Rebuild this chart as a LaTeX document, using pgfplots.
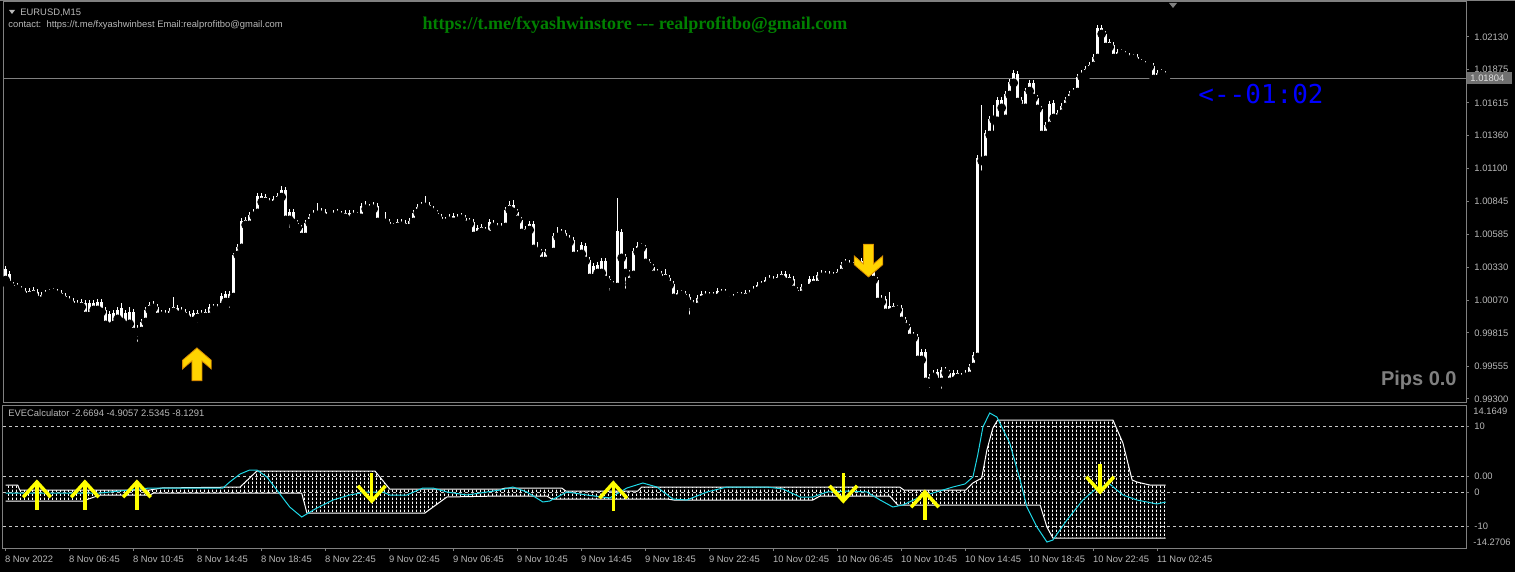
\documentclass[border=0pt]{standalone}
\usepackage{fontspec}
\setmainfont{Liberation Sans}
\newfontfamily\monofont{DejaVu Sans Mono}
\newfontfamily\seriffont{Liberation Serif}
\usepackage{pgfplots}
\pgfplotsset{compat=1.18}
\usepackage{pgfplotstable}
\usetikzlibrary{patterns}
\definecolor{tickgray}{RGB}{185,185,185}
\definecolor{framegray}{RGB}{128,128,128}
\definecolor{dashgray}{RGB}{200,200,200}
\definecolor{aqua}{RGB}{30,215,230}
\definecolor{ylw}{RGB}{255,255,0}
\definecolor{gold}{RGB}{255,212,0}
\definecolor{goldedge}{RGB}{215,140,0}
\definecolor{mtgreen}{RGB}{0,128,0}
\definecolor{pipsgray}{RGB}{128,128,128}
\definecolor{boxgray}{RGB}{112,112,112}
\newcommand\tf{\fontsize{4.7pt}{5.6pt}\selectfont}

\pgfdeclarepatternformonly{vdots}{\pgfpointorigin}{\pgfpoint{2pt}{2pt}}{\pgfpoint{2pt}{2pt}}{%
  \pgfpathrectangle{\pgfpointorigin}{\pgfpoint{0.5pt}{1.5pt}}\pgfusepath{fill}}

\pgfdeclareplotmark{upind}{%
  \pgfsetlinewidth{1.75pt}\pgfsetmiterjoin\pgfsetbuttcap
  \pgfpathmoveto{\pgfpoint{-6.9pt}{-7.6pt}}\pgfpathlineto{\pgfpoint{0pt}{0pt}}\pgfpathlineto{\pgfpoint{6.9pt}{-7.6pt}}\pgfusepathqstroke
  \pgfpathmoveto{\pgfpoint{0pt}{0pt}}\pgfpathlineto{\pgfpoint{0pt}{-14pt}}\pgfusepathqstroke}
\pgfdeclareplotmark{downind}{%
  \pgfsetlinewidth{1.75pt}\pgfsetmiterjoin\pgfsetbuttcap
  \pgfpathmoveto{\pgfpoint{-6.9pt}{7.6pt}}\pgfpathlineto{\pgfpoint{0pt}{0pt}}\pgfpathlineto{\pgfpoint{6.9pt}{7.6pt}}\pgfusepathqstroke
  \pgfpathmoveto{\pgfpoint{0pt}{0pt}}\pgfpathlineto{\pgfpoint{0pt}{14pt}}\pgfusepathqstroke}
\pgfdeclareplotmark{upbig}{%
  \pgfpathmoveto{\pgfpoint{0pt}{0pt}}
  \pgfpathlineto{\pgfpoint{-7.15pt}{-6.15pt}}
  \pgfpathlineto{\pgfpoint{-7.15pt}{-10.5pt}}
  \pgfpathlineto{\pgfpoint{-2.5pt}{-6.5pt}}
  \pgfpathlineto{\pgfpoint{-2.5pt}{-16.35pt}}
  \pgfpathlineto{\pgfpoint{2.5pt}{-16.35pt}}
  \pgfpathlineto{\pgfpoint{2.5pt}{-6.5pt}}
  \pgfpathlineto{\pgfpoint{7.15pt}{-10.5pt}}
  \pgfpathlineto{\pgfpoint{7.15pt}{-6.15pt}}
  \pgfpathclose\pgfusepathqfillstroke}
\pgfdeclareplotmark{downbig}{%
  \pgfpathmoveto{\pgfpoint{0pt}{0pt}}
  \pgfpathlineto{\pgfpoint{-7.15pt}{6.15pt}}
  \pgfpathlineto{\pgfpoint{-7.15pt}{10.5pt}}
  \pgfpathlineto{\pgfpoint{-2.5pt}{6.5pt}}
  \pgfpathlineto{\pgfpoint{-2.5pt}{16.35pt}}
  \pgfpathlineto{\pgfpoint{2.5pt}{16.35pt}}
  \pgfpathlineto{\pgfpoint{2.5pt}{6.5pt}}
  \pgfpathlineto{\pgfpoint{7.15pt}{10.5pt}}
  \pgfpathlineto{\pgfpoint{7.15pt}{6.15pt}}
  \pgfpathclose\pgfusepathqfillstroke}

\pgfplotstableread{
i h t b l
0 1.00339 1.00316 1.00229 1.00206
1 1.00300 1.00277 1.00190 1.00166
2 1.00213 1.00190 1.00151 1.00128
3 1.00206 1.00182 1.00159 1.00135
4 1.00182 1.00159 1.00128 1.00104
5 1.00166 1.00143 1.00096 1.00073
6 1.00166 1.00143 1.00104 1.00081
7 1.00174 1.00151 1.00112 1.00089
8 1.00159 1.00135 1.00073 1.00050
9 1.00135 1.00112 1.00065 1.00042
10 1.00151 1.00128 1.00104 1.00081
11 1.00159 1.00135 1.00120 1.00096
12 1.00166 1.00143 1.00128 1.00104
13 1.00159 1.00135 1.00112 1.00089
14 1.00151 1.00128 1.00089 1.00065
15 1.00128 1.00104 1.00065 1.00042
16 1.00104 1.00081 1.00050 1.00026
17 1.00089 1.00065 1.00018 0.99995
18 1.00073 1.00050 1.00018 0.99995
19 1.00081 1.00057 1.00018 0.99995
20 1.00073 1.00050 0.99948 0.99925
21 1.00073 1.00050 0.99948 0.99925
22 1.00073 1.00050 0.99995 0.99972
23 1.00081 1.00057 0.99995 0.99972
24 1.00081 1.00057 0.99979 0.99956
25 1.00018 0.99995 0.99878 0.99854
26 0.99987 0.99964 0.99862 0.99838
27 0.99995 0.99972 0.99878 0.99854
28 1.00018 0.99995 0.99925 0.99901
29 1.00050 1.00010 0.99901 0.99893
30 0.99995 0.99972 0.99862 0.99838
31 1.00018 0.99979 0.99886 0.99838
32 1.00003 0.99979 0.99822 0.99775
33 0.99878 0.99838 0.99822 0.99713
34 0.99925 0.99901 0.99830 0.99807
35 1.00018 0.99995 0.99901 0.99878
36 1.00057 1.00034 0.99995 0.99972
37 1.00065 1.00042 1.00010 0.99987
38 1.00042 1.00018 0.99940 0.99917
39 0.99995 0.99972 0.99948 0.99925
40 0.99995 0.99972 0.99940 0.99917
41 1.00010 0.99987 0.99940 0.99901
42 1.00096 1.00018 0.99979 0.99956
43 1.00034 1.00010 0.99956 0.99932
44 1.00018 0.99995 0.99964 0.99940
45 1.00003 0.99979 0.99940 0.99917
46 0.99987 0.99964 0.99909 0.99886
47 0.99995 0.99972 0.99909 0.99886
48 0.99995 0.99972 0.99932 0.99854
49 0.99995 0.99972 0.99940 0.99917
50 1.00003 0.99979 0.99940 0.99917
51 1.00042 1.00018 0.99940 0.99917
52 1.00042 1.00018 0.99995 0.99972
53 1.00042 1.00018 0.99987 0.99964
54 1.00128 1.00104 1.00018 0.99995
55 1.00143 1.00120 1.00057 1.00034
56 1.00143 1.00120 1.00057 0.99979
57 1.00441 1.00425 1.00096 1.00081
58 1.00511 1.00487 1.00425 1.00402
59 1.00714 1.00691 1.00480 1.00456
60 1.00722 1.00699 1.00660 1.00636
61 1.00761 1.00738 1.00660 1.00605
62 1.00785 1.00761 1.00730 1.00707
63 1.00910 1.00886 1.00754 1.00730
64 1.00910 1.00886 1.00839 1.00816
65 1.00902 1.00878 1.00839 1.00816
66 1.00870 1.00847 1.00816 1.00792
67 1.00886 1.00863 1.00816 1.00792
68 1.00910 1.00886 1.00847 1.00824
69 1.00964 1.00933 1.00878 1.00855
70 1.00956 1.00933 1.00699 1.00675
71 1.00785 1.00761 1.00699 1.00605
72 1.00785 1.00761 1.00675 1.00652
73 1.00699 1.00675 1.00636 1.00613
74 1.00660 1.00636 1.00565 1.00542
75 1.00699 1.00675 1.00565 1.00542
76 1.00746 1.00722 1.00675 1.00652
77 1.00777 1.00754 1.00722 1.00699
78 1.00832 1.00761 1.00738 1.00714
79 1.00792 1.00769 1.00738 1.00714
80 1.00785 1.00761 1.00714 1.00691
81 1.00746 1.00722 1.00714 1.00691
82 1.00777 1.00754 1.00722 1.00699
83 1.00785 1.00761 1.00738 1.00714
84 1.00769 1.00746 1.00722 1.00699
85 1.00777 1.00754 1.00714 1.00691
86 1.00777 1.00754 1.00683 1.00660
87 1.00777 1.00754 1.00722 1.00699
88 1.00761 1.00738 1.00722 1.00699
89 1.00832 1.00808 1.00714 1.00691
90 1.00847 1.00808 1.00785 1.00761
91 1.00824 1.00800 1.00777 1.00754
92 1.00839 1.00816 1.00785 1.00761
93 1.00832 1.00808 1.00683 1.00660
94 1.00707 1.00683 1.00675 1.00652
95 1.00761 1.00691 1.00675 1.00652
96 1.00707 1.00683 1.00636 1.00613
97 1.00675 1.00652 1.00636 1.00597
98 1.00707 1.00683 1.00644 1.00620
99 1.00707 1.00683 1.00652 1.00628
100 1.00699 1.00675 1.00636 1.00613
101 1.00714 1.00691 1.00636 1.00613
102 1.00777 1.00754 1.00683 1.00660
103 1.00824 1.00800 1.00754 1.00730
104 1.00839 1.00816 1.00792 1.00769
105 1.00886 1.00824 1.00800 1.00777
106 1.00839 1.00816 1.00777 1.00754
107 1.00808 1.00785 1.00754 1.00730
108 1.00777 1.00754 1.00714 1.00691
109 1.00746 1.00722 1.00675 1.00652
110 1.00722 1.00699 1.00675 1.00652
111 1.00746 1.00722 1.00691 1.00668
112 1.00754 1.00730 1.00683 1.00660
113 1.00746 1.00722 1.00691 1.00668
114 1.00754 1.00730 1.00707 1.00683
115 1.00738 1.00714 1.00660 1.00636
116 1.00714 1.00691 1.00668 1.00644
117 1.00707 1.00683 1.00573 1.00550
118 1.00660 1.00636 1.00581 1.00558
119 1.00668 1.00644 1.00605 1.00581
120 1.00644 1.00620 1.00597 1.00573
121 1.00707 1.00683 1.00581 1.00558
122 1.00699 1.00675 1.00644 1.00620
123 1.00675 1.00652 1.00620 1.00597
124 1.00675 1.00652 1.00620 1.00597
125 1.00800 1.00777 1.00644 1.00620
126 1.00847 1.00816 1.00777 1.00754
127 1.00855 1.00816 1.00761 1.00738
128 1.00785 1.00761 1.00699 1.00675
129 1.00722 1.00699 1.00597 1.00542
130 1.00652 1.00628 1.00589 1.00565
131 1.00691 1.00668 1.00620 1.00597
132 1.00691 1.00668 1.00472 1.00448
133 1.00526 1.00472 1.00448 1.00409
134 1.00472 1.00448 1.00378 1.00355
135 1.00472 1.00448 1.00378 1.00339
136 1.00480 1.00456 1.00448 1.00425
137 1.00597 1.00573 1.00448 1.00425
138 1.00644 1.00589 1.00565 1.00542
139 1.00628 1.00605 1.00581 1.00558
140 1.00620 1.00597 1.00542 1.00519
141 1.00581 1.00558 1.00526 1.00503
142 1.00565 1.00542 1.00417 1.00394
143 1.00464 1.00441 1.00417 1.00394
144 1.00526 1.00503 1.00433 1.00409
145 1.00519 1.00495 1.00378 1.00355
146 1.00409 1.00386 1.00245 1.00221
147 1.00363 1.00339 1.00245 1.00221
148 1.00370 1.00347 1.00284 1.00261
149 1.00402 1.00378 1.00284 1.00261
150 1.00402 1.00378 1.00229 1.00206
151 1.00261 1.00237 1.00198 1.00112
152 1.00221 1.00198 1.00174 1.00151
153 1.00870 1.00613 1.00174 1.00151
154 1.00628 1.00605 1.00402 1.00378
155 1.00433 1.00409 1.00284 1.00128
156 1.00308 1.00284 1.00213 1.00190
157 1.00480 1.00456 1.00269 1.00245
158 1.00526 1.00495 1.00448 1.00425
159 1.00519 1.00495 1.00480 1.00456
160 1.00503 1.00480 1.00363 1.00339
161 1.00394 1.00370 1.00331 1.00308
162 1.00355 1.00331 1.00269 1.00245
163 1.00316 1.00277 1.00269 1.00245
164 1.00300 1.00277 1.00229 1.00206
165 1.00316 1.00277 1.00237 1.00213
166 1.00269 1.00245 1.00190 1.00166
167 1.00221 1.00198 1.00089 1.00065
168 1.00151 1.00128 1.00081 1.00057
169 1.00151 1.00128 1.00112 1.00089
170 1.00143 1.00120 1.00081 1.00057
171 1.00120 1.00096 1.00042 0.99925
172 1.00073 1.00050 1.00018 0.99995
173 1.00112 1.00089 1.00018 0.99995
174 1.00143 1.00120 1.00073 1.00050
175 1.00143 1.00120 1.00089 1.00065
176 1.00135 1.00112 1.00089 1.00065
177 1.00135 1.00112 1.00089 1.00065
178 1.00166 1.00143 1.00089 1.00065
179 1.00159 1.00135 1.00112 1.00089
180 1.00159 1.00135 1.00112 1.00089
181 1.00120 1.00096 1.00065 1.00042
182 1.00120 1.00096 1.00073 1.00050
183 1.00135 1.00112 1.00096 1.00073
184 1.00135 1.00112 1.00089 1.00065
185 1.00151 1.00128 1.00089 1.00065
186 1.00151 1.00128 1.00096 1.00073
187 1.00182 1.00159 1.00128 1.00104
188 1.00213 1.00190 1.00143 1.00120
189 1.00221 1.00198 1.00174 1.00151
190 1.00253 1.00229 1.00182 1.00159
191 1.00269 1.00245 1.00213 1.00190
192 1.00261 1.00237 1.00206 1.00182
193 1.00277 1.00253 1.00213 1.00190
194 1.00300 1.00277 1.00237 1.00213
195 1.00300 1.00277 1.00213 1.00190
196 1.00277 1.00253 1.00213 1.00190
197 1.00261 1.00237 1.00151 1.00128
198 1.00174 1.00151 1.00112 1.00089
199 1.00198 1.00174 1.00112 1.00089
200 1.00198 1.00174 1.00166 1.00143
201 1.00261 1.00237 1.00166 1.00143
202 1.00261 1.00237 1.00190 1.00166
203 1.00292 1.00269 1.00190 1.00166
204 1.00308 1.00284 1.00253 1.00229
205 1.00300 1.00277 1.00253 1.00229
206 1.00300 1.00277 1.00245 1.00221
207 1.00292 1.00269 1.00245 1.00221
208 1.00316 1.00292 1.00253 1.00229
209 1.00370 1.00347 1.00284 1.00261
210 1.00394 1.00370 1.00347 1.00323
211 1.00386 1.00363 1.00331 1.00308
212 1.00370 1.00347 1.00331 1.00308
213 1.00402 1.00378 1.00347 1.00323
214 1.00402 1.00378 1.00292 1.00269
215 1.00433 1.00409 1.00284 1.00261
216 1.00448 1.00409 1.00323 1.00300
217 1.00339 1.00316 1.00229 1.00206
218 1.00253 1.00229 1.00057 1.00034
219 1.00112 1.00089 1.00057 1.00034
220 1.00104 1.00081 0.99972 0.99948
221 1.00135 1.00026 0.99972 0.99948
222 1.00050 1.00026 0.99987 0.99964
223 1.00034 1.00010 0.99995 0.99972
224 1.00034 1.00010 0.99909 0.99886
225 0.99940 0.99917 0.99862 0.99838
226 0.99886 0.99862 0.99776 0.99752
227 0.99822 0.99799 0.99776 0.99752
228 0.99807 0.99784 0.99604 0.99581
229 0.99690 0.99666 0.99604 0.99581
230 0.99690 0.99666 0.99432 0.99408
231 0.99495 0.99471 0.99424 0.99353
232 0.99526 0.99503 0.99471 0.99447
233 0.99534 0.99510 0.99432 0.99408
234 0.99549 0.99526 0.99432 0.99346
235 0.99549 0.99526 0.99503 0.99479
236 0.99526 0.99503 0.99432 0.99408
237 0.99526 0.99503 0.99440 0.99416
238 0.99526 0.99503 0.99463 0.99440
239 0.99503 0.99479 0.99455 0.99432
240 0.99526 0.99503 0.99471 0.99447
241 0.99573 0.99549 0.99479 0.99455
242 0.99666 0.99643 0.99549 0.99526
243 1.01207 1.01183 0.99627 0.99604
244 1.01598 1.01183 1.01160 1.01051
245 1.01402 1.01379 1.01168 1.01144
246 1.01512 1.01489 1.01363 1.01340
247 1.01598 1.01496 1.01481 1.01363
248 1.01660 1.01637 1.01473 1.01449
249 1.01660 1.01637 1.01575 1.01551
250 1.01707 1.01684 1.01489 1.01465
251 1.01801 1.01778 1.01676 1.01652
252 1.01872 1.01848 1.01770 1.01746
253 1.01864 1.01840 1.01621 1.01598
254 1.01660 1.01637 1.01575 1.01551
255 1.01731 1.01707 1.01575 1.01551
256 1.01793 1.01770 1.01707 1.01684
257 1.01793 1.01770 1.01652 1.01629
258 1.01676 1.01652 1.01567 1.01543
259 1.01590 1.01567 1.01363 1.01340
260 1.01465 1.01442 1.01363 1.01340
261 1.01629 1.01606 1.01434 1.01410
262 1.01637 1.01614 1.01496 1.01473
263 1.01559 1.01535 1.01489 1.01465
264 1.01614 1.01590 1.01528 1.01504
265 1.01660 1.01637 1.01582 1.01559
266 1.01707 1.01684 1.01637 1.01614
267 1.01731 1.01707 1.01684 1.01660
268 1.01840 1.01817 1.01699 1.01676
269 1.01872 1.01848 1.01817 1.01793
270 1.01903 1.01879 1.01840 1.01817
271 1.01934 1.01911 1.01872 1.01848
272 1.01997 1.01973 1.01903 1.01879
273 1.02224 1.02200 1.01965 1.01942
274 1.02224 1.02200 1.02153 1.02130
275 1.02177 1.02153 1.02051 1.02028
276 1.02114 1.02091 1.02051 1.02028
277 1.02091 1.02067 1.01965 1.01942
278 1.02036 1.02012 1.01965 1.01942
279 1.02036 1.02012 1.01997 1.01973
280 1.02020 1.01997 1.01973 1.01950
281 1.02005 1.01981 1.01950 1.01926
282 1.01997 1.01973 1.01958 1.01934
283 1.01997 1.01973 1.01926 1.01903
284 1.01958 1.01934 1.01918 1.01895
285 1.01942 1.01918 1.01895 1.01872
286 1.01926 1.01903 1.01895 1.01872
287 1.01926 1.01903 1.01801 1.01778
288 1.01872 1.01848 1.01801 1.01778
289 1.01879 1.01856 1.01840 1.01817
290 1.01864 1.01840 1.01809 1.01786
}\candles

\pgfplotsset{
  mtaxis/.style={scale only axis, clip mode=individual,
    xmin=-0.675, xmax=365.075,
    axis line style={framegray, line width=0.5pt},
    every tick/.style={framegray, line width=0.5pt},
    tick align=outside, major tick length=1.5pt,
    tick label style={font=\tf, text=tickgray},
    yticklabel style={anchor=west, inner sep=0pt, xshift=2.5pt},
    axis background/.style={fill=black}},
}

\begin{document}
\begin{tikzpicture}
\useasboundingbox (0,0) rectangle (757.5pt,-286pt);
\fill[black] (0,0) rectangle (757.5pt,-286pt);
\draw[framegray, line width=0.5pt] (0,-0.25pt) -- (757.5pt,-0.25pt);

% ---------- price panel ----------
\begin{axis}[mtaxis, at={(1.5pt,-1pt)}, anchor=north west,
  width=731.5pt, height=200pt,
  ymin=0.99275, ymax=1.02403,
  xtick=\empty,
  ytick={0.99300,0.99555,0.99815,1.00070,1.00330,1.00585,1.00845,1.01100,1.01360,1.01615,1.01875,1.02130},
  yticklabels={0.99300,0.99555,0.99815,1.00070,1.00330,1.00585,1.00845,1.01100,1.01360,1.01615,1.01875,1.02130},
  ytick pos=right, yticklabel pos=right]
  \addplot[framegray, line width=0.5pt] coordinates {(-0.675,1.01804) (365.075,1.01804)};
  \addplot[only marks, mark=none, error bars/.cd, y dir=plus, y explicit, error mark=none,
    error bar style={white, line width=0.5pt}]
    table[x=i, y=l, y error plus expr=\thisrow{h}-\thisrow{l}] {\candles};
  \addplot[only marks, mark=none, error bars/.cd, y dir=plus, y explicit, error mark=none,
    error bar style={white, line width=1.5pt}]
    table[x=i, y=b, y error plus expr=\thisrow{t}-\thisrow{b}] {\candles};
  \addplot[only marks, mark=upbig, mark options={fill=gold, draw=goldedge, line width=0.4pt}] coordinates {(47.8,0.99698)};
  \addplot[only marks, mark=downbig, mark options={fill=gold, draw=goldedge, line width=0.4pt}] coordinates {(215.7,1.00253)};
\end{axis}

% ---------- indicator panel ----------
\begin{axis}[mtaxis, at={(1.5pt,-202.5pt)}, anchor=north west,
  width=731.5pt, height=71.5pt,
  ymin=-14.4, ymax=14.2,
  xtick={0,16,...,288},
  xticklabels={8 Nov 2022,8 Nov 06:45,8 Nov 10:45,8 Nov 14:45,8 Nov 18:45,8 Nov 22:45,9 Nov 02:45,9 Nov 06:45,9 Nov 10:45,9 Nov 14:45,9 Nov 18:45,9 Nov 22:45,10 Nov 02:45,10 Nov 06:45,10 Nov 10:45,10 Nov 14:45,10 Nov 18:45,10 Nov 22:45,11 Nov 02:45},
  xtick pos=left,
  xticklabel style={anchor=north west, inner sep=0pt, xshift=-0.5pt, yshift=-2.5pt},
  ytick={10,0,-3.2,-10},
  yticklabels={10,0.00,0,-10},
  ytick pos=right, yticklabel pos=right,
  ymajorgrids, grid style={dashgray, line width=0.5pt, dash pattern=on 1.5pt off 1.5pt}]
  \addplot[pattern=vdots, pattern color=white, draw=none] coordinates {
    (0,-1.8) (3,-1.8) (3.5,-2.8) (36,-2.8) (39,-2.4) (58.6,-2.2) (62.8,1.0) (92.3,1.0) (96,-2.6) (124,-2.6) (125,-2.4) (139,-2.4) (140,-3.0) (158,-3.0) (159,-2.2) (223.5,-2.2) (224.5,-2.8) (240,-2.8) (241.8,-1.4) (244,-0.4) (245.3,5.2) (246.8,9.6) (248,11.2) (276.8,11.2) (279.3,6.6) (281.6,-0.8) (282.8,-1.2) (286,-1.8) (290,-1.8)
    (290,-12.4) (261.8,-12.4) (260.3,-10.2) (258.6,-5.8) (223,-5.8) (221,-4.0) (203.6,-4.0) (201.8,-4.8) (167,-4.8) (165.3,-4.6) (136.5,-4.6) (135.3,-4.0) (123.6,-4.0) (110.3,-4.2) (104.8,-7.4) (75.3,-7.4) (74,-3.4) (37,-3.4) (36,-3.8) (23.6,-3.8) (19.3,-5.0) (0,-5.0)} -- cycle;
  \addplot[white, line width=0.5pt] coordinates {
    (0,-1.8) (3,-1.8) (3.5,-2.8) (36,-2.8) (39,-2.4) (58.6,-2.2) (62.8,1.0) (92.3,1.0) (96,-2.6) (124,-2.6) (125,-2.4) (139,-2.4) (140,-3.0) (158,-3.0) (159,-2.2) (223.5,-2.2) (224.5,-2.8) (240,-2.8) (241.8,-1.4) (244,-0.4) (245.3,5.2) (246.8,9.6) (248,11.2) (276.8,11.2) (279.3,6.6) (281.6,-0.8) (282.8,-1.2) (286,-1.8) (290,-1.8)};
  \addplot[white, line width=0.5pt] coordinates {
    (0,-5.0) (19.3,-5.0) (23.6,-3.8) (36,-3.8) (37,-3.4) (74,-3.4) (75.3,-7.4) (104.8,-7.4) (110.3,-4.2) (123.6,-4.0) (135.3,-4.0) (136.5,-4.6) (165.3,-4.6) (167,-4.8) (201.8,-4.8) (203.6,-4.0) (221,-4.0) (223,-5.8) (258.6,-5.8) (260.3,-10.2) (261.8,-12.4) (290,-12.4)};
  \addplot[aqua, line width=0.5pt] coordinates {
    (0,-3.4) (11,-3.4) (23.6,-3.4) (36,-2.4) (48.6,-2.4) (54.3,-2.4) (56,-1.2) (58.6,0.4) (61,1.2) (62.8,1.2) (65.3,-0.2) (67.8,-2.8) (71,-6.2) (74,-8.2) (77.8,-6.4) (81.8,-4.8) (86,-3.8) (90.3,-3.2) (94.3,-3.2) (96,-3.8) (100.3,-3.8) (104.3,-2.4) (106.8,-2.4) (110.3,-3.2) (115.3,-3.8) (123.6,-2.8) (126.8,-2.2) (130.3,-3.2) (134.3,-5.2) (136,-5.0) (140.3,-3.2) (145.3,-3.8) (151,-4.4) (155.3,-2.4) (159.3,-1.4) (162.8,-2.2) (166.8,-4.6) (170.3,-4.8) (175.3,-3.2) (180.3,-2.2) (190.3,-2.2) (194.3,-2.6) (198.6,-4.2) (201.8,-4.2) (205.3,-3.2) (210.3,-3.0) (215.3,-3.2) (218.6,-4.8) (221.8,-6.2) (224.3,-5.8) (228.6,-4.2) (231.8,-3.4) (236.8,-2.2) (239.8,-1.6) (241.8,-0.2) (243,4.2) (244.3,9.8) (246,12.6) (247.8,11.8) (251,6.6) (253.6,-0.8) (255.3,-6.2) (257.8,-10.2) (260.3,-13.2) (261.8,-12.8) (265.3,-8.8) (269.3,-4.8) (272.8,-2.4) (276,-1.6) (279.3,-3.8) (282.8,-4.8) (287.8,-5.6) (290,-5.2)};
  \addplot[only marks, mark=upind, color=ylw] coordinates {(7.8,-1.2) (19.8,-1.2) (32.8,-1.2) (151.9,-1.4) (229.8,-3.2)};
  \addplot[only marks, mark=downind, color=ylw] coordinates {(91.5,-5.0) (209.4,-5.0) (273.6,-3.2)};
\end{axis}

% ---------- texts ----------
\fill[tickgray] (4.5pt,-5pt) -- (7.5pt,-5pt) -- (6pt,-7pt) -- cycle;
\node[anchor=west, inner sep=0pt, text=tickgray, font=\tf] at (10pt,-6.25pt) {EURUSD,M15};
\node[anchor=west, inner sep=0pt, text=tickgray, font=\tf] at (4pt,-12.5pt) {contact:\ \ https://t.me/fxyashwinbest Email:realprofitbo@gmail.com};
\node[inner sep=0pt, text=mtgreen, font=\seriffont\bfseries\fontsize{9pt}{10pt}\selectfont] at (317.5pt,-12.5pt) {https://t.me/fxyashwinstore {-}{-}{-} realprofitbo@gmail.com};
\node[anchor=west, inner sep=0pt, text=blue, font=\monofont\fontsize{13pt}{14pt}\selectfont] at (599pt,-47pt) {<{-}{-}01:02};
\node[anchor=east, inner sep=0pt, text=pipsgray, font=\bfseries\fontsize{10pt}{11pt}\selectfont] at (728.5pt,-190pt) {Pips 0.0};
\fill[framegray] (584.5pt,-1.5pt) -- (588.5pt,-1.5pt) -- (586.5pt,-4pt) -- cycle;
\fill[boxgray] (733.5pt,-36pt) rectangle (756pt,-42pt);
\node[anchor=west, inner sep=0pt, text=white!88!black, font=\tf] at (735pt,-39pt) {1.01804};
\node[anchor=west, inner sep=0pt, text=tickgray, font=\tf] at (4pt,-206.5pt) {EVECalculator -2.6694 -4.9057 2.5345 -8.1291};
\node[anchor=west, inner sep=0pt, text=tickgray, font=\tf] at (736.5pt,-205.5pt) {14.1649};
\node[anchor=west, inner sep=0pt, text=tickgray, font=\tf] at (736.5pt,-271pt) {-14.2706};
\end{tikzpicture}
\end{document}
